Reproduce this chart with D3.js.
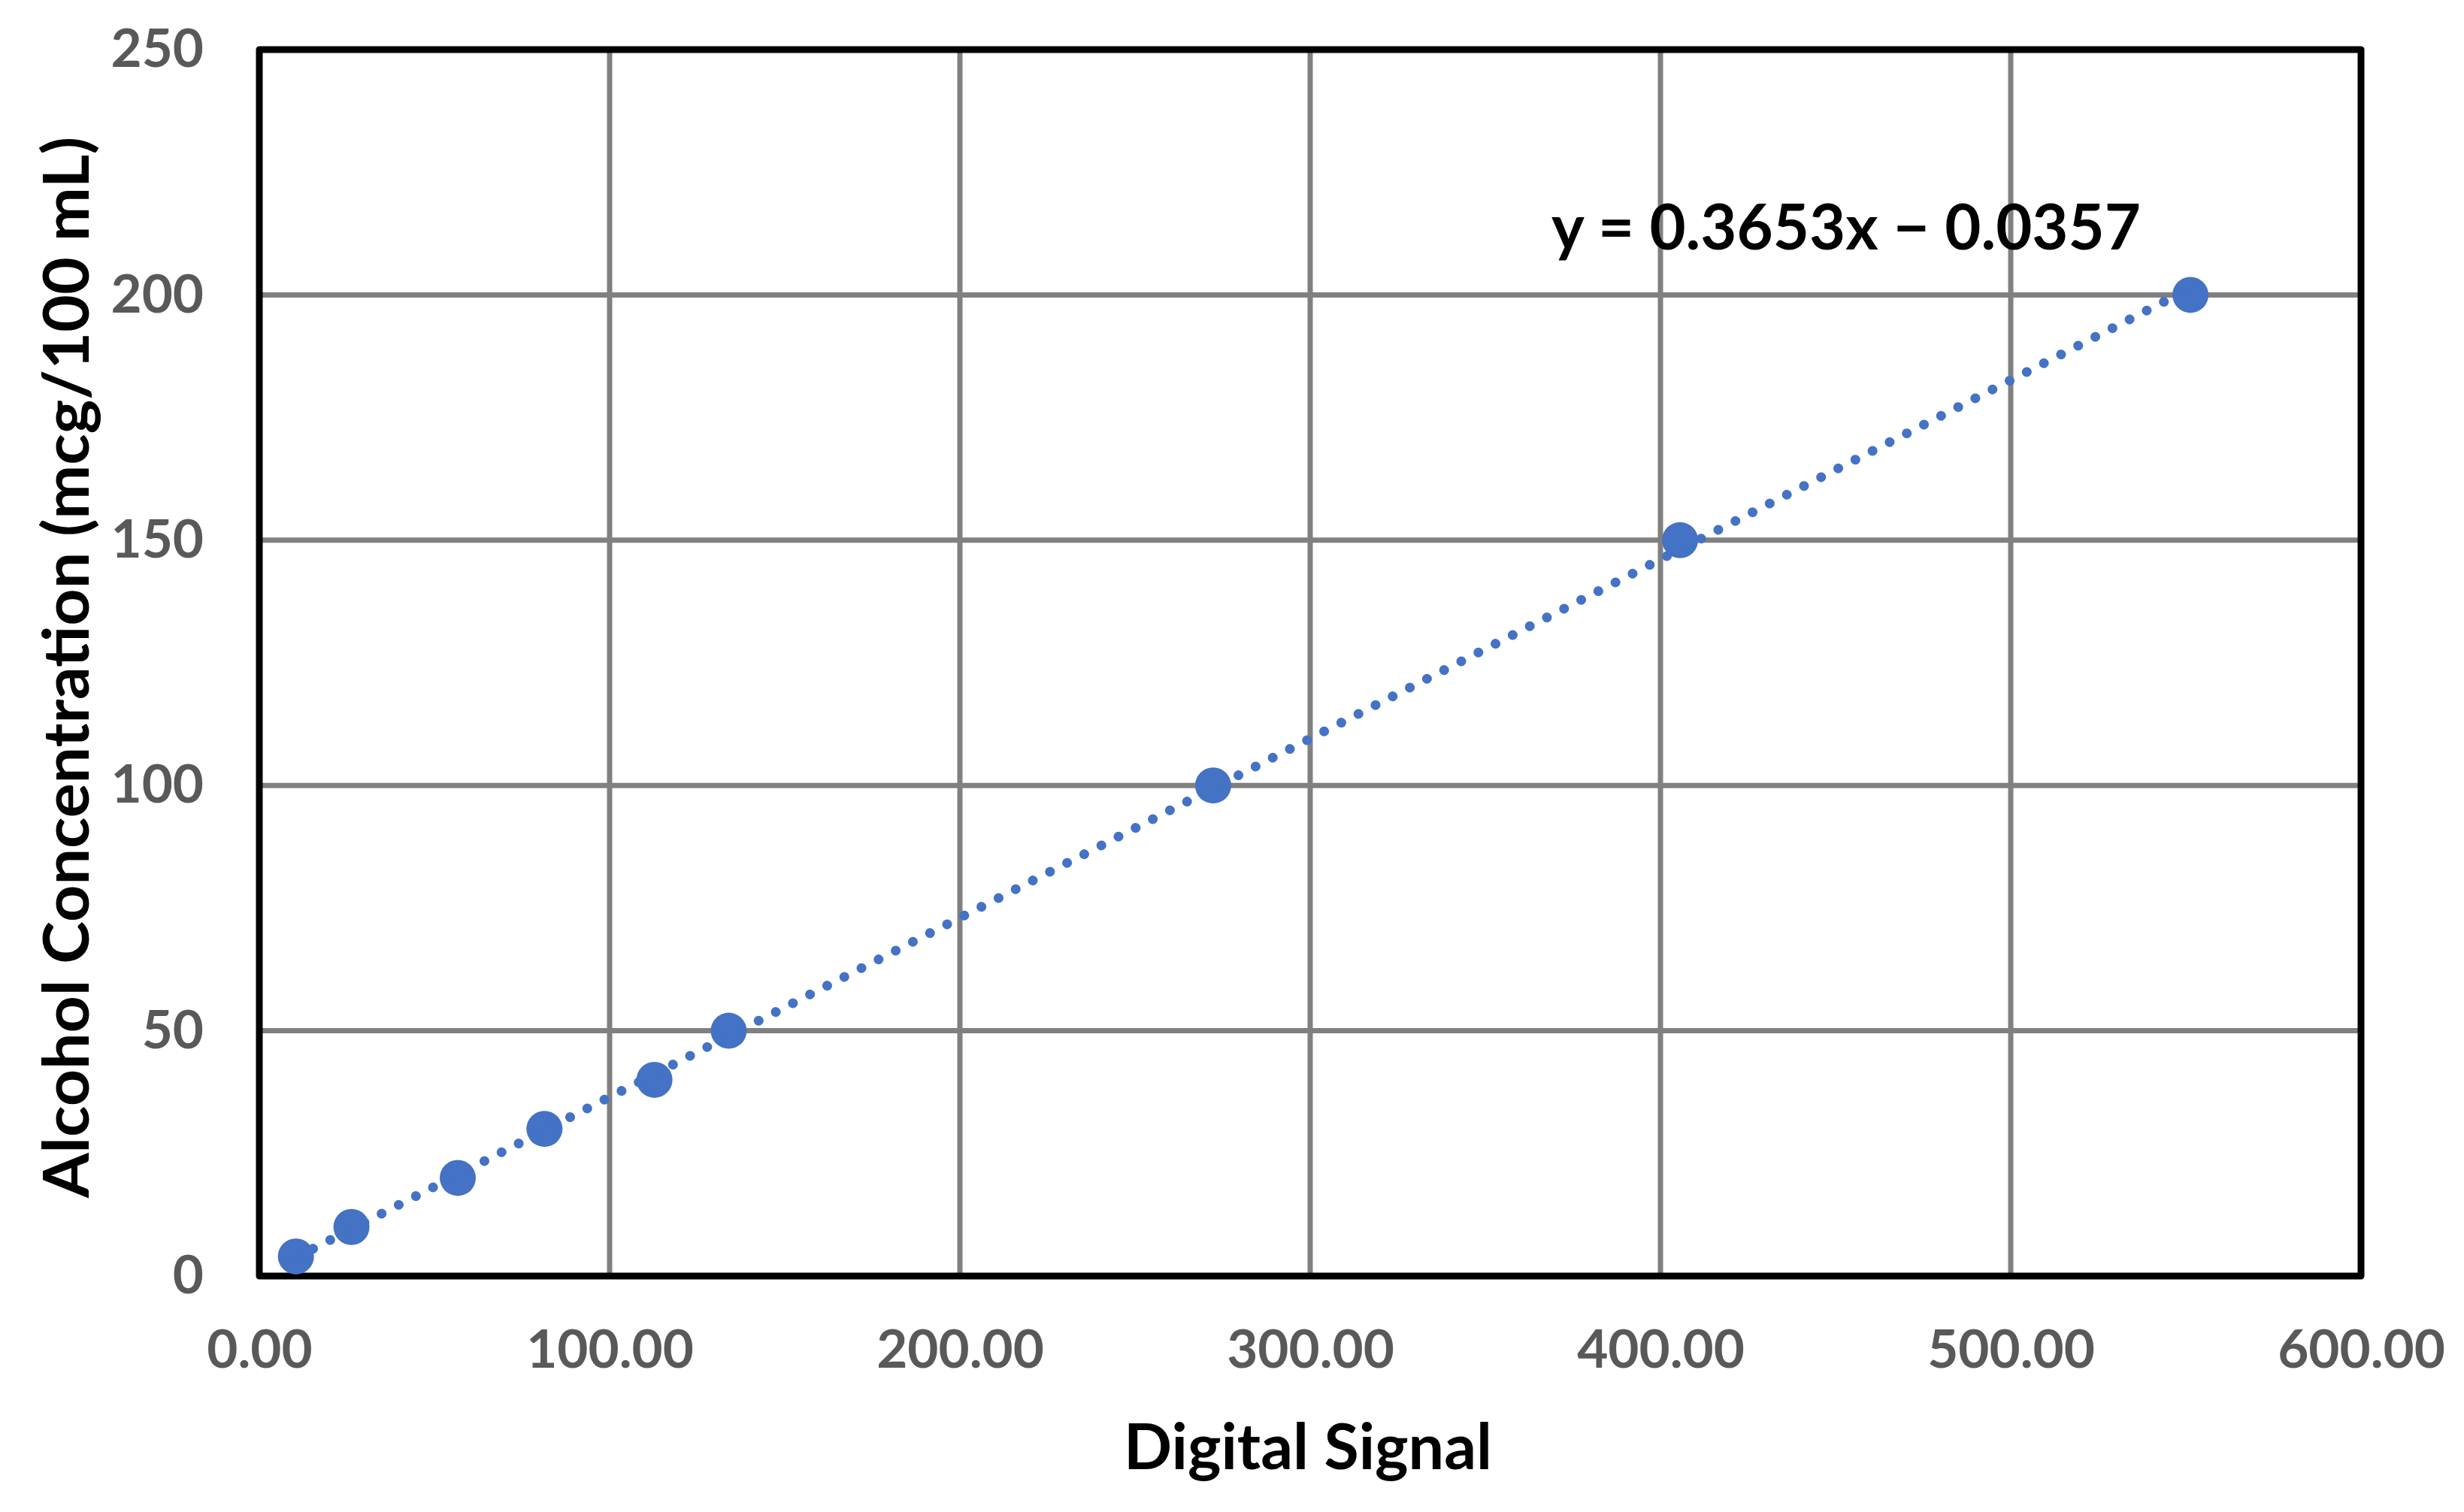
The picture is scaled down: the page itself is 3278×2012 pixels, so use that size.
<!DOCTYPE html>
<html>
<head>
<meta charset="utf-8">
<script src="https://cdn.jsdelivr.net/npm/d3@7"></script>
<style>
  html, body { margin: 0; padding: 0; background: #fff; }
  svg { display: block; }
</style>
</head>
<body>
<svg id="chart" width="3278" height="2012"></svg>
<script>
// ---- data ----
const digitalSignal = [10.45, 26.3, 56.65, 81.4, 112.8, 134.0, 272.3, 405.6, 551.3];
const alcoholConc   = [4, 10, 20, 30, 40, 50, 100, 150, 200];
const xTickValues   = [0, 100, 200, 300, 400, 500, 600];
const yTickValues   = [0, 50, 100, 150, 200, 250];
const trendSlope = 0.3653;
const trendIntercept = -0.0357;
const equationLabel = "y = 0.3653x \u2212 0.0357";
const xTitle = "Digital Signal";
const yTitle = "Alcohol Concentration (mcg/100 mL)";

// ---- layout ----
const W = 3278, H = 2012;
const plot = { left: 345, right: 3141, top: 66, bottom: 1698 };
const FONT = "Lato, 'Open Sans', 'Liberation Sans', sans-serif";
const blue = "#4472C4";

const svg = d3.select("#chart");
svg.append("rect").attr("width", W).attr("height", H).attr("fill", "#fff");

const x = d3.scaleLinear().domain([0, 600]).range([plot.left, plot.right]);
const y = d3.scaleLinear().domain([0, 250]).range([plot.bottom, plot.top]);

// gridlines
const grid = svg.append("g").attr("stroke", "#808080").attr("stroke-width", 7);
grid.selectAll("line.gx").data(xTickValues.slice(1, -1)).join("line")
  .attr("class", "gx")
  .attr("x1", d => x(d)).attr("x2", d => x(d))
  .attr("y1", plot.top).attr("y2", plot.bottom);
grid.selectAll("line.gy").data(yTickValues.slice(1, -1)).join("line")
  .attr("class", "gy")
  .attr("x1", plot.left).attr("x2", plot.right)
  .attr("y1", d => y(d)).attr("y2", d => y(d));

// plot border
svg.append("rect")
  .attr("x", plot.left).attr("y", plot.top)
  .attr("width", plot.right - plot.left).attr("height", plot.bottom - plot.top)
  .attr("fill", "none").attr("stroke", "#000").attr("stroke-width", 9)
  .attr("stroke-linejoin", "round");

// axes (labels only)
const xAxis = d3.axisBottom(x).tickValues(xTickValues).tickFormat(d3.format(".2f"))
  .tickSize(0).tickPadding(72);
const gx = svg.append("g").attr("transform", `translate(0,${plot.bottom})`).call(xAxis);
const yAxis = d3.axisLeft(y).tickValues(yTickValues).tickFormat(d3.format("d"))
  .tickSize(0).tickPadding(74);
const gy = svg.append("g").attr("transform", `translate(${plot.left},0)`).call(yAxis);
[gx, gy].forEach(g => {
  g.select(".domain").remove();
  g.selectAll("text")
    .attr("fill", "#595959")
    .style("font-family", FONT)
    .style("font-weight", "bold")
    .style("font-size", "71px");
});

// markers
svg.append("g").selectAll("circle")
  .data(digitalSignal.map((v, i) => ({ xv: v, yv: alcoholConc[i] })))
  .join("circle")
  .attr("cx", d => x(d.xv)).attr("cy", d => y(d.yv))
  .attr("r", 24).attr("fill", blue);

// trendline (dotted)
const xMin = d3.min(digitalSignal), xMax = d3.max(digitalSignal);
const trend = [xMin, xMax].map(v => [v, trendSlope * v + trendIntercept]);
svg.append("path")
  .datum(trend)
  .attr("d", d3.line().x(d => x(d[0])).y(d => y(d[1])))
  .attr("fill", "none").attr("stroke", blue)
  .attr("stroke-width", 13).attr("stroke-linecap", "round")
  .attr("stroke-dasharray", "0.01 25.6");

// texts
function fitText(sel, target) {
  const w = sel.node().getComputedTextLength();
  if (Math.abs(w - target) > 2) {
    sel.attr("textLength", target).attr("lengthAdjust", "spacingAndGlyphs");
  }
}

const eq = svg.append("text")
  .attr("x", 2064).attr("y", 332)
  .attr("fill", "#000")
  .style("font-family", FONT).style("font-weight", "bold").style("font-size", "84px")
  .text(equationLabel);
fitText(eq, 784);

const xt = svg.append("text")
  .attr("x", (plot.left + plot.right) / 2 - 3).attr("y", 1955)
  .attr("text-anchor", "middle").attr("fill", "#000")
  .style("font-family", FONT).style("font-weight", "bold").style("font-size", "84px")
  .text(xTitle);
fitText(xt, 490);

const yt = svg.append("text")
  .attr("transform", `translate(118,888) rotate(-90)`)
  .attr("text-anchor", "middle").attr("fill", "#000")
  .style("font-family", FONT).style("font-weight", "bold").style("font-size", "84px")
  .text(yTitle);
fitText(yt, 1412);
</script>
</body>
</html>
